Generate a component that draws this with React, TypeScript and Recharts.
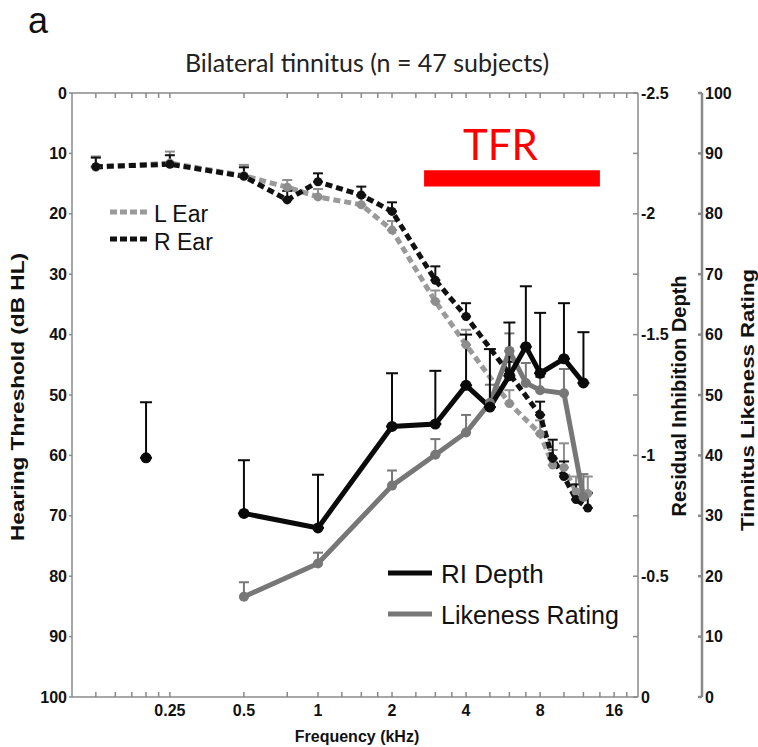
import {
  ErrorBar,
  Line,
  LineChart,
  ReferenceArea,
  XAxis,
  YAxis,
} from "recharts";

// frequencies in kHz
const HEAR_FREQS = [0.125, 0.25, 0.5, 0.75, 1, 1.5, 2, 3, 4, 6, 8, 9, 10, 11.2, 12.5];
const L_EAR = [12.3, 11.6, 13.7, 15.6, 17.2, 18.5, 22.7, 34.5, 41.7, 51.4, 56.4, 61.6, 62.0, 66.0, 66.3];
const L_EAR_ERR = [1.8, 1.9, 1.8, 1.2, 1.3, 1.3, 1.5, 1.8, 2.5, 2.2, 2.2, 2.5, 4.0, 2.5, 2.8];
const R_EAR = [12.2, 11.8, 13.8, 17.7, 14.7, 16.9, 19.6, 31.0, 37.0, 46.5, 53.3, 60.5, 63.5, 67.3, 68.7];
const R_EAR_ERR = [1.5, 1.5, 1.5, 1.5, 1.4, 1.4, 1.5, 2.3, 2.2, 2.0, 2.2, 3.1, 2.5, 2.5, 2.5];

const RI_FREQS = [0.2, 0.5, 1, 2, 3, 4, 5, 6, 7, 8, 10, 12];
const RI_DEPTH = [-0.99, -0.76, -0.7, -1.12, -1.13, -1.29, -1.2, -1.33, -1.45, -1.34, -1.4, -1.3];
const RI_ERR = [0.23, 0.22, 0.22, 0.22, 0.22, 0.21, 0.24, 0.22, 0.25, 0.25, 0.23, 0.21];

const LR_FREQS = [0.5, 1, 2, 3, 4, 5, 6, 7, 8, 10, 12];
const LR_RATING = [16.6, 22.1, 35.0, 40.1, 43.8, 48.7, 57.3, 52.0, 50.8, 50.3, 33.1];
const LR_ERR = [2.4, 1.8, 2.5, 2.6, 2.9, 3.0, 2.9, 3.3, 2.2, 4.0, 3.8];

const X_MAJOR = [0.25, 0.5, 1, 2, 4, 8, 16];
const X_MINOR = [0.125, 0.15, 0.175, 0.2, 0.225, 0.75, 1.25, 1.5, 1.75, 2.5, 3, 3.5, 5, 6, 7, 10, 12, 14, 18];
const X_TICKS = [...X_MAJOR, ...X_MINOR].sort((a, b) => a - b);
const HL_TICKS = [0, 10, 20, 30, 40, 50, 60, 70, 80, 90, 100];
const RI_TICKS = [-2.5, -2.25, -2, -1.75, -1.5, -1.25, -1, -0.75, -0.5, -0.25, 0];
const LR_TICKS = [0, 10, 20, 30, 40, 50, 60, 70, 80, 90, 100];

// TFR bar: frequency span and level on the hearing axis
const TFR_FREQS = [2.7, 14];
const TFR_LEVEL = [12.8, 15.5];

const AXIS = "#8a8a8a";
const FONT = "'Liberation Sans', Arial, sans-serif";
const tickStyle = { fontSize: 16, fontWeight: 700, fill: "#111", fontFamily: FONT };

const lEar = HEAR_FREQS.map((f, i) => ({ f, v: L_EAR[i], e: [L_EAR_ERR[i], 0] }));
const rEar = HEAR_FREQS.map((f, i) => ({ f, v: R_EAR[i], e: [R_EAR_ERR[i], 0] }));
const riAll = RI_FREQS.map((f, i) => ({ f, v: RI_DEPTH[i], e: [RI_ERR[i], 0] }));
const riLone = riAll.slice(0, 1);
const riMain = riAll.slice(1);
const likeness = LR_FREQS.map((f, i) => ({ f, v: LR_RATING[i], e: [0, LR_ERR[i]] }));

function fmtX(v: number) {
  return X_MAJOR.includes(v) ? String(v) : "";
}

function fmtRI(v: number) {
  return Math.abs((v * 2) % 1) < 1e-6 ? String(v) : "";
}

export default function App() {
  return (
    <div style={{ position: "absolute", left: 0, top: 0, width: 758, height: 747, background: "#fff" }}>
      <LineChart width={758} height={747} margin={{ top: 88, right: 0, bottom: 0, left: 0 }}>
        <XAxis
          xAxisId="b"
          dataKey="f"
          type="number"
          scale="log"
          domain={[0.1, 20]}
          allowDataOverflow
          ticks={X_TICKS}
          interval={0}
          tickFormatter={fmtX}
          height={50}
          stroke={AXIS}
          strokeWidth={1.5}
          tickSize={-5}
          tickMargin={13}
          tick={tickStyle}
        />
        <XAxis
          xAxisId="t"
          orientation="top"
          dataKey="f"
          type="number"
          scale="log"
          domain={[0.1, 20]}
          allowDataOverflow
          ticks={X_TICKS}
          interval={0}
          tickFormatter={() => ""}
          height={5}
          stroke={AXIS}
          strokeWidth={1.5}
          tickSize={-5}
        />
        <YAxis
          yAxisId="hl"
          domain={[0, 100]}
          reversed
          ticks={HL_TICKS}
          interval={0}
          width={72}
          stroke={AXIS}
          strokeWidth={1.5}
          tickSize={3}
          tickMargin={2}
          tick={tickStyle}
        />
        <YAxis
          yAxisId="r1"
          orientation="right"
          domain={[-2.5, 0]}
          reversed
          ticks={RI_TICKS}
          interval={0}
          tickFormatter={fmtRI}
          width={64}
          stroke={AXIS}
          strokeWidth={1.5}
          tickSize={-5}
          tickMargin={8}
          tick={tickStyle}
        />
        <YAxis
          yAxisId="r2"
          orientation="right"
          domain={[0, 100]}
          ticks={LR_TICKS}
          interval={0}
          width={56}
          stroke={AXIS}
          strokeWidth={2.5}
          tickSize={-4}
          tickMargin={7}
          tick={tickStyle}
        />

        <ReferenceArea
          xAxisId="b"
          yAxisId="hl"
          x1={TFR_FREQS[0]}
          x2={TFR_FREQS[1]}
          y1={TFR_LEVEL[0]}
          y2={TFR_LEVEL[1]}
          fill="#ff0000"
          fillOpacity={1}
          stroke="none"
        />

        <Line
          xAxisId="b"
          yAxisId="hl"
          data={lEar}
          dataKey="v"
          stroke="#9a9a9a"
          strokeWidth={5}
          strokeDasharray="7 4"
          dot={{ r: 4.5, fill: "#8e8e8e", strokeWidth: 0, strokeDasharray: "0" }}
          isAnimationActive={false}
        >
          <ErrorBar dataKey="e" width={5} stroke="#8e8e8e" strokeWidth={2} />
        </Line>
        <Line
          xAxisId="b"
          yAxisId="hl"
          data={rEar}
          dataKey="v"
          stroke="#111"
          strokeWidth={5}
          strokeDasharray="7 4"
          dot={{ r: 4.5, fill: "#111", strokeWidth: 0, strokeDasharray: "0" }}
          isAnimationActive={false}
        >
          <ErrorBar dataKey="e" width={5} stroke="#111" strokeWidth={2} />
        </Line>
        <Line
          xAxisId="b"
          yAxisId="r2"
          data={likeness}
          dataKey="v"
          stroke="#777"
          strokeWidth={5}
          dot={{ r: 5, fill: "#777", strokeWidth: 0 }}
          isAnimationActive={false}
        >
          <ErrorBar dataKey="e" width={5} stroke="#777" strokeWidth={2} />
        </Line>
        <Line
          xAxisId="b"
          yAxisId="r1"
          data={riMain}
          dataKey="v"
          stroke="#0a0a0a"
          strokeWidth={5}
          dot={{ r: 5.5, fill: "#0a0a0a", strokeWidth: 0 }}
          isAnimationActive={false}
        >
          <ErrorBar dataKey="e" width={6} stroke="#0a0a0a" strokeWidth={2} />
        </Line>
        <Line
          xAxisId="b"
          yAxisId="r1"
          data={riLone}
          dataKey="v"
          stroke="#0a0a0a"
          strokeWidth={5}
          dot={{ r: 5.5, fill: "#0a0a0a", strokeWidth: 0 }}
          isAnimationActive={false}
        >
          <ErrorBar dataKey="e" width={6} stroke="#0a0a0a" strokeWidth={2} />
        </Line>
      </LineChart>

      <svg
        width={758}
        height={747}
        style={{ position: "absolute", left: 0, top: 0, pointerEvents: "none" }}
      >
        <text x={28} y={33} fontSize={36} fontFamily={FONT} fill="#111">a</text>
        <text x={367} y={72} fontSize={25} fontFamily="Lato, 'Open Sans', sans-serif" fill="#222" textAnchor="middle">
          Bilateral tinnitus (n = 47 subjects)
        </text>
        <text x={463} y={160} fontSize={42} fontFamily="Lato, 'Open Sans', sans-serif" fill="#ff0000">TFR</text>

        <text
          transform="translate(24,397) rotate(-90)"
          textAnchor="middle"
          fontSize={18}
          fontWeight={700}
          fontFamily={FONT}
          fill="#111"
          textLength={288}
          lengthAdjust="spacingAndGlyphs"
        >
          Hearing Threshold (dB HL)
        </text>
        <text
          transform="translate(686,396) rotate(-90)"
          textAnchor="middle"
          fontSize={20}
          fontWeight={700}
          fontFamily={FONT}
          fill="#111"
        >
          Residual Inhibition Depth
        </text>
        <text
          transform="translate(754,400) rotate(-90)"
          textAnchor="middle"
          fontSize={19}
          fontWeight={700}
          fontFamily={FONT}
          fill="#111"
          textLength={262}
          lengthAdjust="spacingAndGlyphs"
        >
          Tinnitus Likeness Rating
        </text>
        <text x={357} y={742} textAnchor="middle" fontSize={16} fontWeight={700} fontFamily={FONT} fill="#111">
          Frequency (kHz)
        </text>

        <line x1={110} y1={212} x2={150} y2={212} stroke="#9a9a9a" strokeWidth={5} strokeDasharray="7 3" />
        <text x={154} y={222} fontSize={23} fontFamily={FONT} fill="#111">L Ear</text>
        <line x1={110} y1={239} x2={150} y2={239} stroke="#111" strokeWidth={5} strokeDasharray="7 3" />
        <text x={154} y={250} fontSize={23} fontFamily={FONT} fill="#111">R Ear</text>

        <line x1={388} y1={573} x2={432} y2={573} stroke="#0a0a0a" strokeWidth={5} />
        <text x={441} y={583} fontSize={26} fontFamily={FONT} fill="#111">RI Depth</text>
        <line x1={388} y1={614} x2={432} y2={614} stroke="#777" strokeWidth={5} />
        <text x={441} y={624} fontSize={25} fontFamily={FONT} fill="#111">Likeness Rating</text>
      </svg>
    </div>
  );
}
